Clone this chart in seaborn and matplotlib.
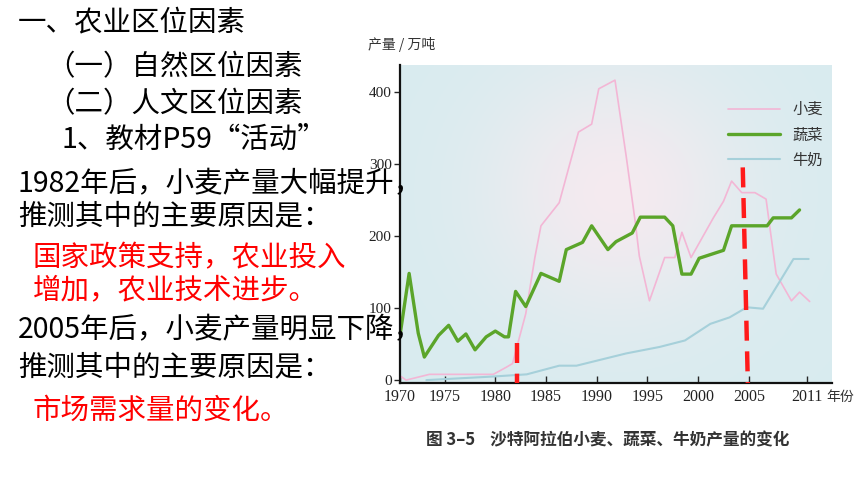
import matplotlib
matplotlib.use('Agg')
import matplotlib.pyplot as plt
import numpy as np
import seaborn as sns

# values (year, 10k tonnes)
wheat_years = [1970.7, 1971.2, 1973.5, 1979.8, 1981.1, 1981.7, 1982.2, 1983.0, 1983.9, 1984.5,
               1986.3, 1988.2, 1989.5, 1990.2, 1991.8, 1992.9, 1993.8, 1994.2, 1995.2, 1996.7,
               1997.7, 1998.4, 1999.3, 2001.5, 2002.5, 2003.3, 2004.3, 2005.6, 2006.7, 2007.1,
               2007.7, 2009.2, 2010.0, 2011.0]
wheat = [5, 0, 8, 8, 18, 23, 50, 92, 170, 214,
         246, 344, 355, 404, 416, 311, 219, 172, 110, 170,
         170, 205, 170, 225, 248, 276, 260, 260, 251, 209,
         147, 110, 122, 109]

veg_years = [1970.6, 1971.5, 1972.4, 1973.0, 1974.4, 1975.4, 1976.3, 1977.1, 1978.0, 1979.1,
             1980.0, 1980.9, 1981.3, 1982.0, 1983.0, 1984.5, 1986.3, 1987.0, 1988.6, 1989.5,
             1991.1, 1991.9, 1993.5, 1994.3, 1996.7, 1997.5, 1998.4, 1999.3, 2000.1, 2002.5,
             2003.3, 2006.8, 2007.4, 2009.2, 2010.0]
veg = [62, 148, 65, 32, 62, 76, 54, 64, 42, 60,
       68, 60, 60, 123, 102, 148, 137, 181, 191, 214,
       181, 192, 204, 226, 226, 214, 147, 147, 169, 180,
       214, 214, 225, 225, 236]

milk_years = [1973.2, 1979.8, 1983.1, 1986.3, 1988.0, 1992.9, 1996.2, 1998.7, 2001.2, 2003.1,
              2004.8, 2006.4, 2008.1, 2009.4, 2010.9]
milk = [0, 5, 8, 20, 20, 37, 46, 55, 78, 87,
        101, 99, 138, 168, 168]

tick_years = [1970.6, 1975, 1980, 1985, 1990, 1995, 2000, 2005, 2010.7]
tick_labels = ['1970', '1975', '1980', '1985', '1990', '1995', '2000', '2005', '2011']

# red dashed markers added on the slide
mark1_x = [1982.1, 1982.1]
mark1_y = [52, -4]
mark2_x = [2004.4, 2004.9]
mark2_y = [295, -4]

left_lines = [
    ('一、农业区位因素', 18, 22, 'black'),
    ('（一）自然区位因素', 46, 67, 'black'),
    ('（二）人文区位因素', 46, 104, 'black'),
    ('1、教材P59“活动”', 62, 140, 'black'),
    ('1982年后，小麦产量大幅提升，', 18, 184, 'black'),
    ('推测其中的主要原因是：', 18, 216, 'black'),
    ('国家政策支持，农业投入', 33, 258, 'red'),
    ('增加，农业技术进步。', 33, 290, 'red'),
    ('2005年后，小麦产量明显下降，', 18, 330, 'black'),
    ('推测其中的主要原因是：', 18, 367, 'black'),
    ('市场需求量的变化。', 33, 411, 'red'),
]

sns.set_style('ticks')
plt.rcParams['font.family'] = ['Noto Sans CJK SC', 'DejaVu Sans']

W, H = 860, 484
fig = plt.figure(figsize=(8.6, 4.84), dpi=100)
fig.patch.set_facecolor('white')
ax = fig.add_axes([400 / W, 1 - 383 / H, 432 / W, 318 / H])

# scanned-paper background: pale blue with a pinkish middle
gx = np.linspace(-1, 1, 200)
gy = np.linspace(-1, 1, 120)
GX, GY = np.meshgrid(gx, gy)
blob = np.exp(-((GX - 0.0) ** 2 / 0.35 + (GY + 0.2) ** 2 / 0.6))
blue = np.array([0.85, 0.925, 0.94])
pink = np.array([0.96, 0.92, 0.94])
bg = blue[None, None, :] * (1 - blob[..., None]) + pink[None, None, :] * blob[..., None]
ax.imshow(bg, extent=[0, 1, 0, 1], transform=ax.transAxes, aspect='auto', zorder=0)

sns.lineplot(x=wheat_years, y=wheat, ax=ax, color='#f3b6d5', linewidth=1.2, label='小麦', sort=False)
sns.lineplot(x=veg_years, y=veg, ax=ax, color='#5ba52a', linewidth=2.4, label='蔬菜', sort=False)
sns.lineplot(x=milk_years, y=milk, ax=ax, color='#a6d0da', linewidth=1.5, label='牛奶', sort=False)

ax.plot(mark1_x, mark1_y, color='#ff1a1a', linewidth=3.2, linestyle=(0, (4.5, 2.4)), clip_on=False, zorder=5)
ax.plot(mark2_x, mark2_y, color='#ff1a1a', linewidth=3.2, linestyle=(0, (4.5, 2.4)), clip_on=False, zorder=5)

ax.set_xlim(1970.6, 2013.2)
ax.set_ylim(-4, 437)
ax.set_xticks(tick_years)
ax.set_xticklabels(tick_labels)
ax.set_yticks([0, 100, 200, 300, 400])
ax.tick_params(axis='x', direction='in', length=5, width=1, labelsize=11.5, pad=4)
ax.tick_params(axis='y', direction='out', length=4, width=1, labelsize=11, pad=2)
for lab in ax.get_xticklabels() + ax.get_yticklabels():
    lab.set_family('Liberation Serif')
    lab.set_color('#222222')
for s in ['top', 'right']:
    ax.spines[s].set_visible(False)
for s in ['left', 'bottom']:
    ax.spines[s].set_linewidth(1.6)
    ax.spines[s].set_color('#111111')

leg = ax.legend(loc='upper right', bbox_to_anchor=(1.01, 0.93), frameon=False,
                handlelength=3.4, handletextpad=0.8, labelspacing=0.55, fontsize=11)
for t in leg.get_texts():
    t.set_color('#333333')

fig.text(368 / W, 1 - 44 / H, '产量 / 万吨', fontsize=10, color='#333333', va='center')
fig.text(826 / W, 1 - 397 / H, '年份', fontsize=10, color='#333333', va='center')
fig.text(426 / W, 1 - 440 / H, '图 3–5    沙特阿拉伯小麦、蔬菜、牛奶产量的变化',
         fontsize=12, color='#333333', va='center', fontweight='bold')

for txt, x, y, c in left_lines:
    fig.text(x / W, 1 - y / H, txt, fontsize=20.5, color=c, va='center', ha='left', zorder=10)

fig.savefig('out.png', dpi=100)
